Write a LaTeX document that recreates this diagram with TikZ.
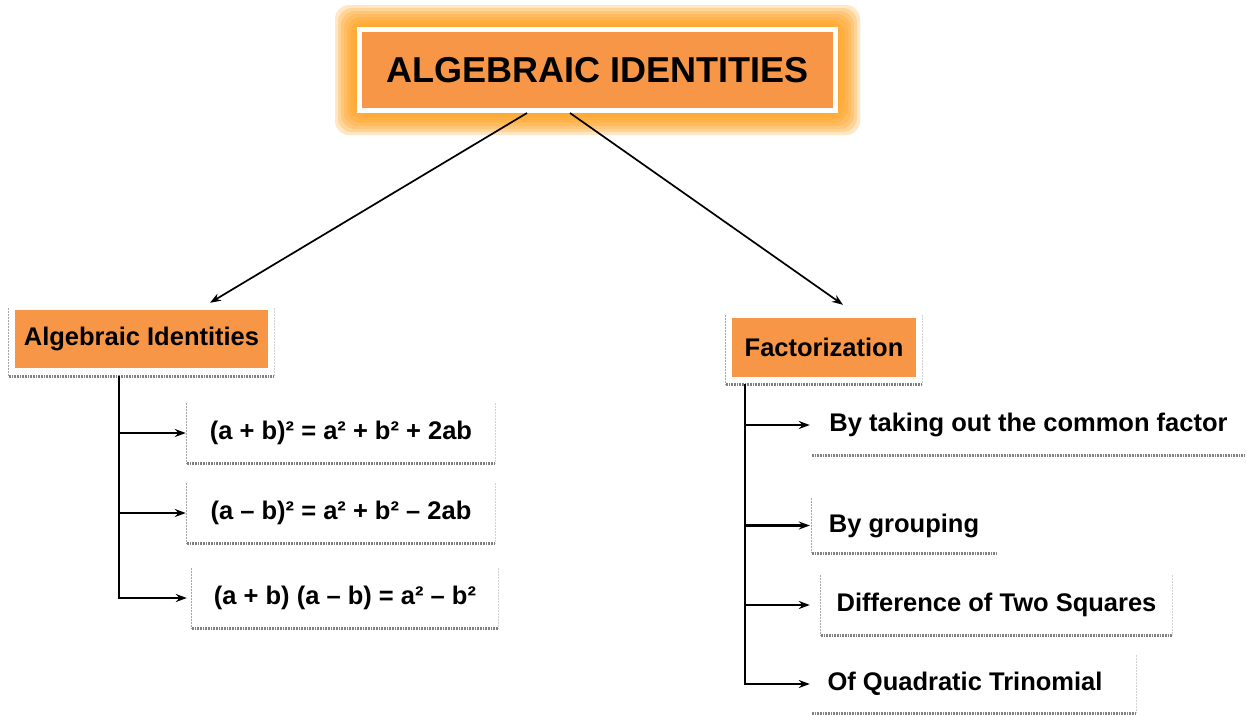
\documentclass[tikz,border=0pt]{standalone}
\usepackage{fontspec}
\setmainfont{Liberation Sans}
\usetikzlibrary{arrows.meta,backgrounds}
\definecolor{boxorange}{HTML}{F79646}
\definecolor{gloworange}{HTML}{FF9F1C}
\tikzset{
  big/.style={font=\bfseries\fontsize{36}{40}\selectfont},
  mid/.style={font=\bfseries\fontsize{25.5}{28}\selectfont},
  head/.style={mid, fill=boxorange, inner sep=0pt},
  item/.style={mid, inner sep=0pt},
  edgeL/.style={draw=gray!70, line width=0.7pt, dash pattern=on 2pt off 1pt},
  edgeR/.style={draw=gray!35, line width=0.7pt, dash pattern=on 2pt off 1pt},
  edgeB/.style={draw=gray, line width=2.6pt, dash pattern=on 1pt off 0.6pt},
  link/.style={line width=1.7pt, -{Stealth[length=11pt,width=8pt]}},
  branch/.style={line width=2.6pt, -{Stealth[length=11pt,width=8pt]}},
}
\begin{document}
\begin{tikzpicture}[x=1pt,y=-1pt]
    \useasboundingbox (0,0) rectangle (1247,715);
    % title
    \node[big, fill=boxorange, draw=white, line width=5pt,
        minimum width=476, minimum height=81] (alg) at (597.5,70) {ALGEBRAIC IDENTITIES};
    \scope[on background layer]
    \foreach \g in {1,4,...,22}
        \fill[gloworange, opacity=0.26, rounded corners=14pt]
            ([shift={(-\g,-\g)}]alg.north west) rectangle ([shift={(\g,\g)}]alg.south east);
    \endscope
    % left hand
    \node[minimum width=265, minimum height=68, inner sep=0pt] (aiF) at (141.5,342) {};
    \node[head, minimum width=253, minimum height=58] (ai) at (141.5,339) {Algebraic Identities};
    \node[item, minimum width=308, minimum height=60] (f1) at (341,433) {(a + b)² = a² + b² + 2ab};
    \node[item, minimum width=308, minimum height=60] (f2) at (341,513) {(a – b)² = a² + b² – 2ab};
    \node[item, minimum width=306, minimum height=60] (f3) at (345,598) {(a + b) (a – b) = a² – b²};
    % right hand
    \node[minimum width=196, minimum height=69, inner sep=0pt] (faF) at (824,349.5) {};
    \node[head, minimum width=184, minimum height=59] (fa) at (824,347.5) {Factorization};
    \node[item, minimum width=433, minimum height=60] (r1) at (1028.5,425) {By taking out the common factor};
    \node[item, minimum width=184, minimum height=55] (r2) at (904,525.5) {By grouping};
    \node[item, minimum width=351, minimum height=60] (r3) at (996.5,605) {Difference of Two Squares};
    \node[item, minimum width=324, minimum height=58] (r4) at (974,684) {Of Quadratic Trinomial\hspace*{18pt}};
    % frames
    \foreach \b in {aiF,faF,f1,f2,f3,r2,r3}
        \draw[edgeL] (\b.north west) -- (\b.south west);
    \foreach \b in {aiF,faF,f1,f2,f3,r3,r4}
        \draw[edgeR] (\b.north east) -- (\b.south east);
    \foreach \b in {aiF,faF,f1,f2,f3,r1,r2,r3,r4}
        \draw[edgeB] (\b.south west) -- (\b.south east);
    % links
    \draw[link] ([xshift=-70.5]alg.south) -- ([xshift=68.5,yshift=5]aiF.north);
    \draw[link] ([xshift=-27.5]alg.south) -- ([xshift=19,yshift=10]faF.north);
    \coordinate (ltop) at ([xshift=110]aiF.south west);
    \draw[branch, shorten >=5pt] (ltop) |- (f3.west);
    \foreach \b in {f1,f2}
        \draw[branch, shorten >=1pt] (ltop |- \b.west) -- (\b.west);
    \coordinate (rtop) at ([xshift=19]faF.south west);
    \draw[branch, shorten >=2pt] (rtop) |- (r4.west);
    \foreach \b/\s in {r1/2,r2/2,r3/11}
        \draw[branch, shorten >=\s pt] (rtop |- \b.west) -- (\b.west);
\end{tikzpicture}
\end{document}
